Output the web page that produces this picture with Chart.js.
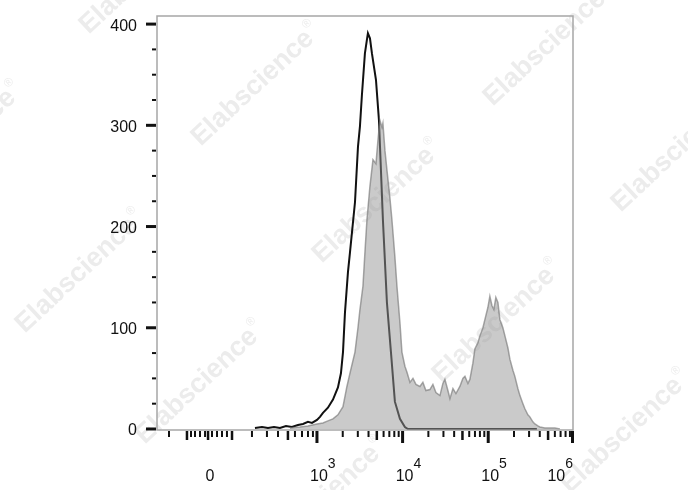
<!DOCTYPE html>
<html>
<head>
<meta charset="utf-8">
<script src="https://cdn.jsdelivr.net/npm/chart.js@4.4.1/dist/chart.umd.min.js"></script>
<style>
  html, body { margin: 0; padding: 0; background: #fff; }
</style>
</head>
<body>
<canvas id="grafica" width="688" height="490"></canvas>
<script>
// ════════════════════════════════════════
//  Histograma de citometría (eje X biexponencial, en décadas)
// ════════════════════════════════════════

// Curva negra (control, sin relleno)
const negroX = [2.276, 2.358, 2.428, 2.498, 2.568, 2.638, 2.708, 2.778, 2.837, 2.895, 2.942,
  3.000, 3.035, 3.070, 3.128, 3.187, 3.245, 3.280, 3.304, 3.327, 3.362, 3.385, 3.444, 3.479,
  3.502, 3.525, 3.560, 3.584, 3.595, 3.619, 3.642, 3.689, 3.724, 3.747, 3.770, 3.817, 3.864,
  3.910, 3.969, 4.027, 4.062, 5.568];
const negroY = [1, 2, 1, 2, 1, 3, 2, 4, 5, 7, 6,
  9, 12, 16, 21, 29, 41, 55, 76, 115, 155, 174, 224, 279,
  299, 330, 371, 385, 391, 386, 371, 345, 305, 256, 207, 125, 76,
  27, 10, 2, 0, 0];

// Curva gris (muestra, rellena)
const grisX = [2.685, 2.802, 2.895, 3.000, 3.070, 3.128, 3.187, 3.245, 3.304, 3.350, 3.385,
  3.444, 3.479, 3.502, 3.537, 3.560, 3.584, 3.619, 3.654, 3.689, 3.712, 3.735, 3.759, 3.770,
  3.794, 3.817, 3.852, 3.875, 3.910, 3.934, 3.969, 3.992, 4.027, 4.051, 4.086, 4.121, 4.156,
  4.202, 4.237, 4.272, 4.319, 4.354, 4.389, 4.436, 4.471, 4.494, 4.529, 4.553, 4.588, 4.623,
  4.669, 4.704, 4.728, 4.763, 4.786, 4.821, 4.844, 4.879, 4.903, 4.938, 4.961, 4.996, 5.019,
  5.043, 5.066, 5.089, 5.113, 5.136, 5.171, 5.195, 5.230, 5.253, 5.288, 5.311, 5.346, 5.370,
  5.405, 5.428, 5.463, 5.486, 5.521, 5.545, 5.580, 5.603, 5.661, 5.720, 5.778, 5.837];
const grisY = [1, 2, 3, 5, 6, 8, 10, 14, 22, 42, 55,
  76, 100, 118, 141, 174, 207, 240, 266, 262, 285, 305, 298, 302,
  275, 256, 228, 207, 170, 141, 105, 76, 62, 56, 46, 50, 44,
  42, 46, 38, 39, 44, 36, 33, 45, 49, 38, 30, 40, 35,
  42, 50, 52, 45, 49, 65, 79, 85, 92, 100, 108, 120, 131,
  122, 118, 130, 125, 108, 100, 92, 80, 69, 58, 52, 40, 33,
  25, 20, 14, 12, 7, 5, 3, 2, 1, 1, 1, 0];

// Ticks del eje Y
const ticksY = [0, 100, 200, 300, 400];
const ticksMenoresY = [25, 50, 75, 125, 150, 175, 225, 250, 275, 325, 350, 375];

// Ticks del eje X (posiciones en décadas)
const posEtiquetasX = [1.75, 3, 4, 5, 6];
const baseEtiquetasX = ["0", "10", "10", "10", "10"];
const expEtiquetasX = ["", "3", "4", "5", "6"];
const ticksMayoresX = [3, 4, 5, 6];
const ticksMediosX = [1.482, 1.728, 2.008, 2.661, 3.699, 4.699, 5.699];
const ticksCeroX = [1.272, 1.529, 1.576, 1.634, 1.693, 1.774, 1.833, 1.891, 1.949,
  2.241, 2.416, 2.545, 2.743, 2.825, 2.895, 2.953];

// Marcas de agua (centro de cada texto)
const marcasAgua = [[144, -27], [-42, 144], [256, 85], [377, 202], [548, 45], [676, 151],
  [80, 272], [200, 383], [497, 322], [322, 500], [625, 432]];

const fuente = '"Liberation Sans", Arial, sans-serif';

const pluginMarcaAgua = {
  id: "marcaAgua",
  beforeDatasetsDraw(chart) {
    const ctx = chart.ctx;
    ctx.save();
    ctx.fillStyle = "#ececec";
    marcasAgua.forEach(([cx, cy]) => {
      ctx.save();
      ctx.translate(cx, cy);
      ctx.rotate(-43 * Math.PI / 180);
      ctx.font = "bold 27px " + fuente;
      const w1 = ctx.measureText("Elabscience").width;
      ctx.font = "12px " + fuente;
      const w2 = ctx.measureText("®").width;
      const x0 = -(w1 + w2) / 2;
      ctx.textBaseline = "middle";
      ctx.font = "bold 27px " + fuente;
      ctx.fillText("Elabscience", x0, 0);
      ctx.font = "12px " + fuente;
      ctx.fillText("®", x0 + w1 + 1, -10);
      ctx.restore();
    });
    ctx.restore();
  }
};

function linea(ctx, x1, y1, x2, y2, ancho) {
  ctx.lineWidth = ancho;
  ctx.beginPath();
  ctx.moveTo(x1, y1);
  ctx.lineTo(x2, y2);
  ctx.stroke();
}

const pluginEjes = {
  id: "ejes",
  afterDraw(chart) {
    const { ctx, chartArea: a, scales } = chart;
    const x = scales.x, y = scales.y;
    ctx.save();

    // Marco
    ctx.strokeStyle = "#a6a6a6";
    ctx.lineWidth = 1.5;
    ctx.strokeRect(a.left, a.top, a.right - a.left, a.bottom - a.top);

    ctx.strokeStyle = "#111";
    ctx.fillStyle = "#111";

    // Eje Y
    ticksMenoresY.forEach(v => {
      const py = y.getPixelForValue(v);
      linea(ctx, a.left - 5, py, a.left - 1, py, 2);
    });
    ctx.font = "16px " + fuente;
    ctx.textAlign = "right";
    ctx.textBaseline = "middle";
    ticksY.forEach(v => {
      const py = y.getPixelForValue(v);
      linea(ctx, a.left - 11, py, a.left - 1, py, 3);
      ctx.fillText(String(v), a.left - 20, py + 2);
    });

    // Eje X
    const base = a.bottom + 1;
    const menores = ticksCeroX.slice();
    [3, 4, 5].forEach(k => {
      [2, 3, 4, 6, 7, 8, 9].forEach(m => menores.push(k + Math.log10(m)));
    });
    menores.forEach(v => {
      const px = x.getPixelForValue(v);
      linea(ctx, px, base, px, base + 6, 2);
    });
    ticksMediosX.forEach(v => {
      const px = x.getPixelForValue(v);
      linea(ctx, px, base, px, base + 9, 2.5);
    });
    ticksMayoresX.forEach(v => {
      const px = Math.min(x.getPixelForValue(v), a.right - 0.5);
      linea(ctx, px, base, px, base + 12, 3);
    });

    ctx.textAlign = "left";
    ctx.textBaseline = "alphabetic";
    posEtiquetasX.forEach((v, i) => {
      const px = x.getPixelForValue(v);
      ctx.font = "16px " + fuente;
      const wb = ctx.measureText(baseEtiquetasX[i]).width;
      ctx.font = "14px " + fuente;
      const we = ctx.measureText(expEtiquetasX[i]).width;
      let izq = px - wb / 2 + (expEtiquetasX[i] ? 2 : 0);
      if (izq + wb + we > a.right) izq = a.right - wb - we;
      ctx.font = "16px " + fuente;
      ctx.fillText(baseEtiquetasX[i], izq, 481);
      ctx.font = "14px " + fuente;
      ctx.fillText(expEtiquetasX[i], izq + wb, 468);
    });

    ctx.restore();
  }
};

new Chart(document.getElementById("grafica"), {
  type: "line",
  data: {
    datasets: [
      {
        label: "Muestra",
        data: grisX.map((v, i) => ({ x: v, y: grisY[i] })),
        borderColor: "rgba(120,120,120,0.65)",
        backgroundColor: "rgba(150,150,150,0.5)",
        borderWidth: 1.5,
        fill: "origin",
        pointRadius: 0,
        tension: 0,
        order: 0
      },
      {
        label: "Control",
        data: negroX.map((v, i) => ({ x: v, y: negroY[i] })),
        borderColor: "#111",
        borderWidth: 2,
        fill: false,
        pointRadius: 0,
        tension: 0,
        order: 1
      }
    ]
  },
  options: {
    responsive: false,
    animation: false,
    devicePixelRatio: 1,
    layout: { padding: { left: 157, right: 115, top: 16, bottom: 60 } },
    plugins: { legend: { display: false }, tooltip: { enabled: false } },
    scales: {
      x: { type: "linear", min: 1.132, max: 5.99, display: false },
      y: { type: "linear", min: -1, max: 408, display: false }
    }
  },
  plugins: [pluginMarcaAgua, pluginEjes]
});
</script>
</body>
</html>
